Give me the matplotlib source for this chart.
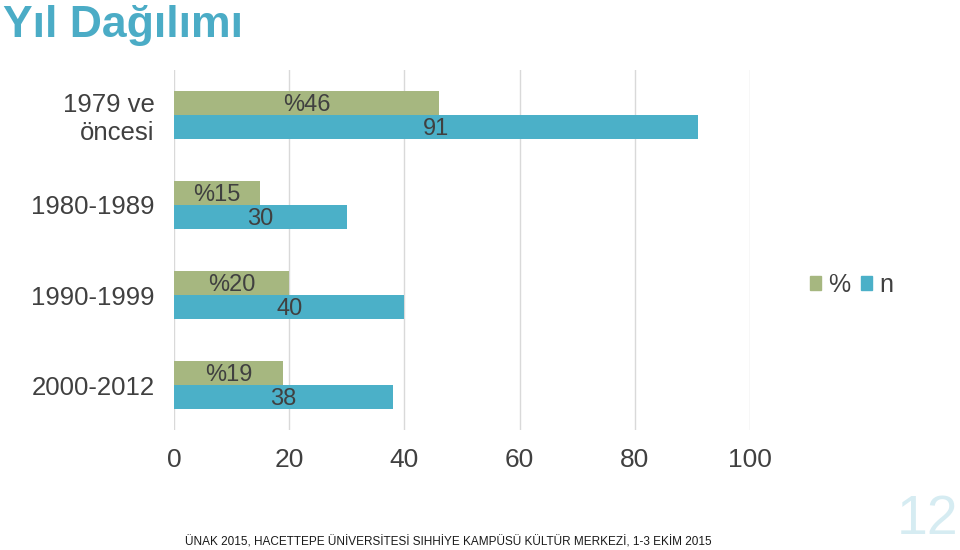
#!/usr/bin/env python3
# Yıl dağılımı: grouped horizontal bars, share (%) and count (n) per period.
import matplotlib
matplotlib.use("Agg")
import matplotlib.pyplot as plt
import numpy as np
from matplotlib.patches import Patch

plt.rcParams["font.family"] = ["Liberation Sans", "DejaVu Sans"]

categories = ["1979 ve\nöncesi", "1980-1989", "1990-1999", "2000-2012"]
percent = [46, 15, 20, 19]
counts = [91, 30, 40, 38]
xticks = [0, 20, 40, 60, 80, 100]

GREEN = "#A6B780"
TEAL = "#4BB0C8"
TEXT = "#404040"

fig = plt.figure(figsize=(9.6, 5.5), dpi=100)
ax = fig.add_axes([0.18125, 0.218, 0.6, 0.655])

y = np.arange(len(categories))
h = 0.268
bars_p = ax.barh(y - h / 2, percent, height=h, color=GREEN, zorder=2)
bars_n = ax.barh(y + h / 2, counts, height=h, color=TEAL, zorder=2)

for b, v in zip(bars_p, percent):
    ax.text(b.get_width() / 2, b.get_y() + b.get_height() / 2 + 0.02, f"%{v}",
            ha="center", va="center", fontsize=17, color=TEXT, zorder=3)
for b, v in zip(bars_n, counts):
    ax.text(b.get_width() / 2, b.get_y() + b.get_height() / 2 + 0.02, f"{v}",
            ha="center", va="center", fontsize=17, color=TEXT, zorder=3)

ax.set_xlim(0, 100)
ax.set_ylim(3.5, -0.5)
ax.set_xticks(xticks)
ax.set_xticklabels([str(t) for t in xticks], fontsize=19, color=TEXT)
ax.set_yticks(y)
ax.set_yticklabels(categories, fontsize=18.5, color=TEXT, linespacing=1.2)
ax.tick_params(axis="x", length=0, pad=13)
ax.tick_params(axis="y", length=0, pad=14)
ax.grid(axis="x", color="#D9D9D9", linewidth=1, zorder=0)
for s in ax.spines.values():
    s.set_visible(False)

fig.legend(handles=[Patch(color=GREEN, label="%"), Patch(color=TEAL, label="n")],
           loc="center left", bbox_to_anchor=(0.82, 0.482), ncol=2, frameon=False,
           fontsize=18, handlelength=0.45, handleheight=0.45, handletextpad=0.3,
           columnspacing=0.4, labelcolor=TEXT)

fig.text(0.003, 0.933, "Yıl Dağılımı", fontsize=32, fontweight="bold",
         color="#4BACC6", ha="left", va="baseline")
fig.text(0.193, 0.003, "ÜNAK 2015, HACETTEPE ÜNİVERSİTESİ SIHHİYE KAMPÜSÜ KÜLTÜR MERKEZİ, 1-3 EKİM 2015",
         fontsize=8.5, color="#1a1a1a", ha="left", va="bottom")
fig.text(0.998, 0.055, "12", fontsize=40, color="#D6ECF2", ha="right", va="center")

fig.savefig("out.png", dpi=100)
